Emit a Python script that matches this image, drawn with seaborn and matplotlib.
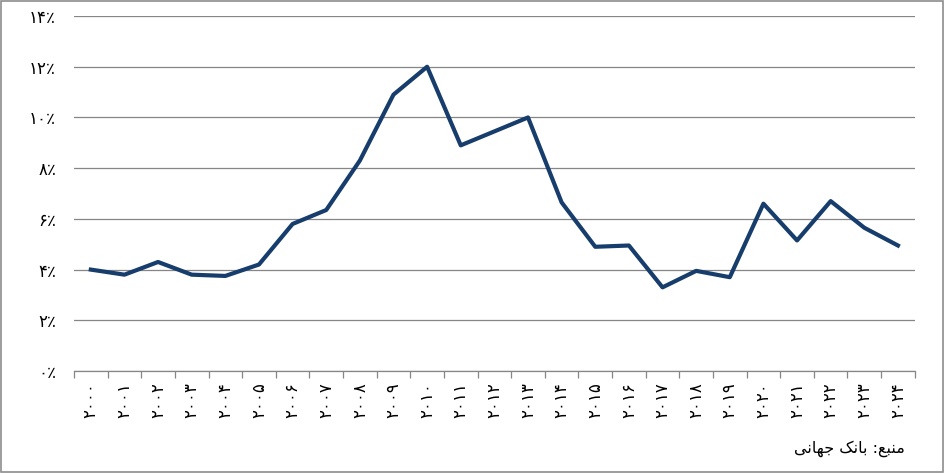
import numpy as np
import pandas as pd
import seaborn as sns
import matplotlib
matplotlib.use("Agg")
from matplotlib import pyplot as plt
from matplotlib.patches import Rectangle

# داده ها (درصد)
years = list(range(2000, 2025))
rates = [4.0, 3.8, 4.3, 3.8, 3.75, 4.2, 5.8, 6.35, 8.3, 10.9, 12.0, 8.9, 9.45, 10.0,
         6.65, 4.9, 4.95, 3.3, 3.95, 3.7, 6.6, 5.15, 6.7, 5.65, 4.95]
yticks = [0, 2, 4, 6, 8, 10, 12, 14]
source_text = "منبع: بانک جهانی"

fa_digits = str.maketrans("0123456789", "۰۱۲۳۴۵۶۷۸۹")

def fa(n):
    return str(n).translate(fa_digits)

# شکل حروف عربی/فارسی (isolated, final, initial, medial)
forms = {
    "ا": ("\uFE8D", "\uFE8E", None, None),
    "ب": ("\uFE8F", "\uFE90", "\uFE91", "\uFE92"),
    "ج": ("\uFE9D", "\uFE9E", "\uFE9F", "\uFEA0"),
    "ع": ("\uFEC9", "\uFECA", "\uFECB", "\uFECC"),
    "م": ("\uFEE1", "\uFEE2", "\uFEE3", "\uFEE4"),
    "ن": ("\uFEE5", "\uFEE6", "\uFEE7", "\uFEE8"),
    "ه": ("\uFEE9", "\uFEEA", "\uFEEB", "\uFEEC"),
    "ک": ("\uFB8E", "\uFB8F", "\uFB90", "\uFB91"),
    "ی": ("\uFBFC", "\uFBFD", "\uFBFE", "\uFBFF"),
}

def shape(txt):
    out = []
    for i, ch in enumerate(txt):
        if ch not in forms:
            out.append(ch)
            continue
        prev = txt[i - 1] if i > 0 else ""
        nxt = txt[i + 1] if i + 1 < len(txt) else ""
        join_prev = prev in forms and forms[prev][2] is not None
        join_next = nxt in forms and forms[ch][2] is not None
        iso, fin, ini, med = forms[ch]
        if join_prev and join_next:
            out.append(med)
        elif join_prev:
            out.append(fin)
        elif join_next:
            out.append(ini)
        else:
            out.append(iso)
    return "".join(out)[::-1]

df = pd.DataFrame({"pos": np.arange(len(years)), "rate": rates})

plt.rcParams["font.family"] = ["DejaVu Sans"]
fig = plt.figure(figsize=(9.45, 4.73), dpi=100)
ax = fig.add_axes([0.0783, 0.2156, 0.8897, 0.7505])

sns.lineplot(data=df, x="pos", y="rate", ax=ax, color="#173d6d", linewidth=3.0)

ax.set_xlim(-0.5, len(years) - 0.5)
ax.set_ylim(0, 14)
ax.set_yticks(yticks)
ax.set_yticklabels([fa(t) + "٪" for t in yticks], fontsize=12)
ax.yaxis.grid(True, color="#868686", linewidth=0.9)
ax.set_axisbelow(True)
ax.tick_params(axis="y", length=0, pad=13)

ax.set_xticks(np.arange(len(years)))
ax.set_xticklabels([fa(y) for y in years], rotation=90, fontsize=12)
ax.set_xticks(np.arange(len(years) + 1) - 0.5, minor=True)
ax.tick_params(axis="x", which="major", length=0, pad=8)
ax.tick_params(axis="x", which="minor", length=5, color="#868686", width=0.9)

for s in ["top", "right", "left"]:
    ax.spines[s].set_visible(False)
ax.spines["bottom"].set_color("#868686")
ax.spines["bottom"].set_linewidth(0.9)
ax.set_xlabel("")
ax.set_ylabel("")

fig.text(0.958, 0.033, shape(source_text), ha="right", va="bottom", fontsize=11.5)
fig.add_artist(Rectangle((0.001, 0.002), 0.997, 0.996, transform=fig.transFigure,
                         fill=False, edgecolor="#8c8c8c", linewidth=1.2))

fig.savefig("out.png", dpi=100)
